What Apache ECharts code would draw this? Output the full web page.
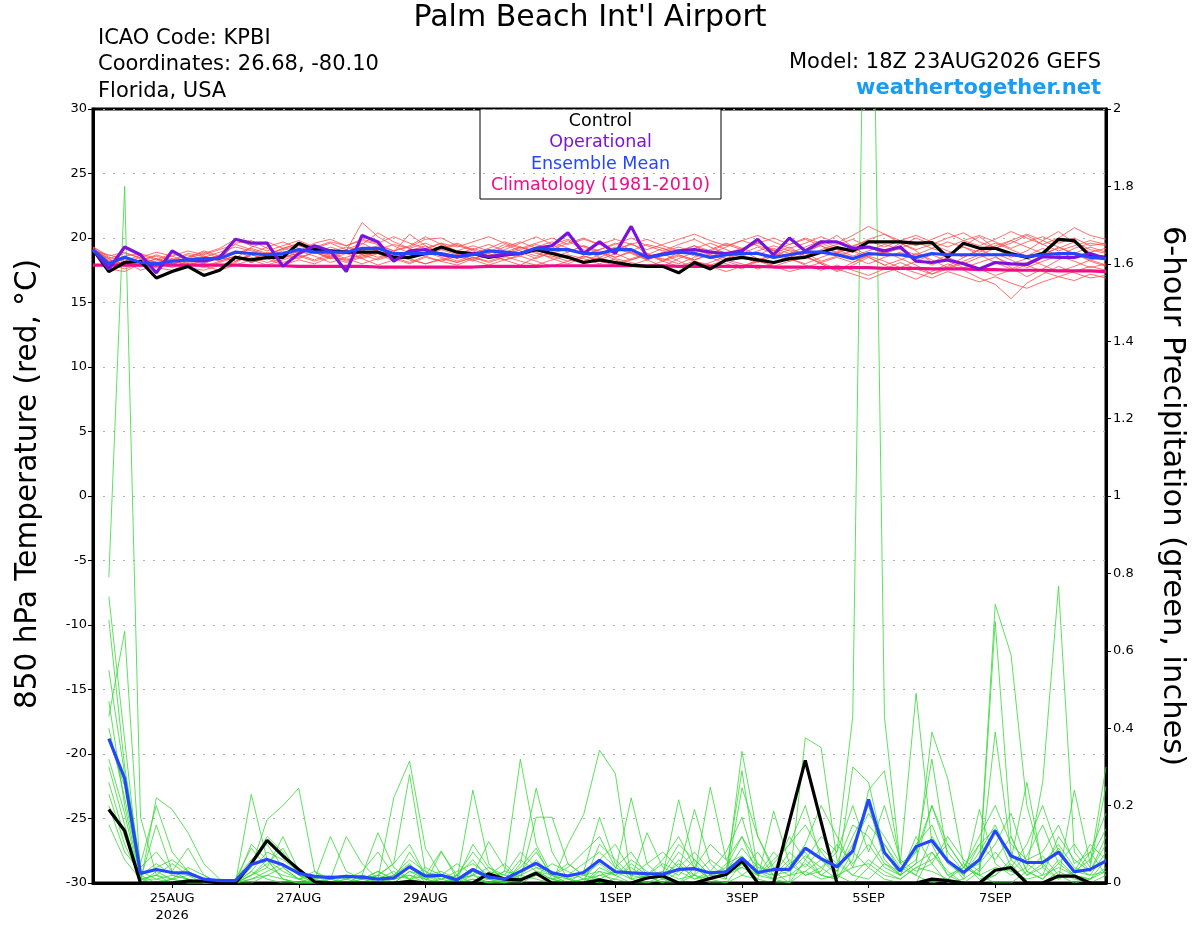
<!DOCTYPE html>
<html>
<head>
<meta charset="utf-8">
<title>Palm Beach Int'l Airport - GEFS meteogram</title>
<script src="https://cdn.jsdelivr.net/npm/echarts@6.0.0/dist/echarts.min.js"></script>
<style>
  html, body { margin: 0; padding: 0; background: #fff; }
  #chart { width: 1200px; height: 927px; }
</style>
</head>
<body>
<div id="chart"></div>
<script>
'use strict';

// Forecast hours from the 18Z 23AUG2026 run, every 6 hours
const hours = [
    0, 6, 12, 18, 24, 30, 36, 42, 48, 54, 60, 66, 72, 78, 84, 90, 96, 102, 108, 114, 120, 126,
    132, 138, 144, 150, 156, 162, 168, 174, 180, 186, 192, 198, 204, 210, 216, 222, 228, 234,
    240, 246, 252, 258, 264, 270, 276, 282, 288, 294, 300, 306, 312, 318, 324, 330, 336, 342,
    348, 354, 360, 366, 372, 378, 384
];

// Date labels on the time axis (00Z of each day)
const dayTickHours = [30, 78, 126, 198, 246, 294, 342];
const dayTickLabels = ['25AUG\n2026', '27AUG', '29AUG', '1SEP', '3SEP', '5SEP', '7SEP'];

// 850 hPa temperature (C)
const tempControl = [
    19.1, 17.4, 18.1, 18.2, 16.9, 17.4, 17.8, 17.1, 17.5, 18.5, 18.3, 18.5, 18.5,
    19.6, 19.1, 19.0, 18.9, 18.9, 18.9, 18.5, 18.5, 18.8, 19.3, 18.9, 18.8, 18.5,
    18.7, 18.8, 19.1, 18.8, 18.5, 18.1, 18.3, 18.1, 17.9, 17.8, 17.8, 17.3, 18.1,
    17.6, 18.3, 18.5, 18.3, 18.1, 18.4, 18.5, 18.9, 19.25, 19.0, 19.7, 19.7, 19.7,
    19.6, 19.65, 18.5, 19.6, 19.2, 19.2, 18.8, 18.5, 18.8, 19.9, 19.8, 18.6, 18.5
];
const tempOperational = [
    19.1, 17.6, 19.3, 18.7, 17.3, 19.0, 18.3, 18.2, 18.5, 19.9, 19.6, 19.6, 17.8,
    18.8, 19.4, 19.0, 17.4, 20.2, 19.7, 18.2, 19.0, 19.1, 18.7, 18.55, 18.8, 18.55,
    18.7, 18.8, 19.2, 19.4, 20.4, 18.8, 19.7, 18.8, 20.9, 18.5, 18.75, 19.0, 19.1,
    18.9, 18.8, 19.0, 19.9, 18.7, 20.0, 19.0, 19.7, 19.7, 19.2, 19.3, 19.0, 19.3,
    18.2, 18.1, 18.3, 18.0, 17.6, 18.1, 18.0, 17.95, 18.55, 18.5, 18.5, 18.8, 18.4
];
const tempMean = [
    19.1, 18.0, 18.5, 18.1, 18.0, 18.2, 18.3, 18.4, 18.4, 18.9, 18.8, 18.7, 18.8,
    19.1, 18.9, 18.9, 18.9, 19.2, 19.2, 18.8, 18.8, 18.8, 18.8, 18.55, 18.7, 19.0,
    18.9, 18.8, 19.2, 19.1, 19.1, 18.8, 18.8, 19.1, 19.1, 18.5, 18.7, 18.9, 18.8,
    18.5, 18.7, 18.8, 18.8, 18.5, 18.7, 18.9, 18.9, 18.7, 18.4, 18.8, 18.7, 18.7,
    18.5, 18.8, 18.7, 18.7, 18.7, 18.7, 18.7, 18.55, 18.7, 18.8, 18.8, 18.5, 18.4
];
const tempClimo = [
    17.9, 17.9, 17.9, 17.9, 17.9, 17.9, 17.9, 17.9, 17.9, 17.9, 17.85, 17.85, 17.85,
    17.8, 17.8, 17.8, 17.8, 17.8, 17.75, 17.75, 17.75, 17.75, 17.75, 17.75, 17.75, 17.8,
    17.8, 17.8, 17.8, 17.85, 17.85, 17.85, 17.85, 17.85, 17.85, 17.85, 17.85, 17.8, 17.8,
    17.8, 17.8, 17.8, 17.8, 17.75, 17.75, 17.75, 17.7, 17.7, 17.7, 17.7, 17.65, 17.65, 17.65,
    17.6, 17.6, 17.6, 17.55, 17.55, 17.5, 17.5, 17.5, 17.45, 17.45, 17.45, 17.4
];

// Ensemble members, 850 hPa temperature
const tempMembers = [
    [19.2, 18.3, 18.0, 17.8, 18.2, 18.6, 18.1, 18.5, 18.9, 19.3, 19.0, 18.6, 19.2,
     19.5, 18.9, 18.4, 19.0, 21.2, 20.1, 19.4, 18.8, 19.1, 19.6, 18.9, 18.3, 18.9,
     19.5, 19.0, 18.6, 19.2, 19.8, 19.1, 18.5, 19.0, 19.6, 18.8, 18.2, 18.9, 19.4,
     18.7, 18.4, 19.1, 19.7, 19.0, 18.3, 18.8, 19.5, 20.2, 19.3, 18.6, 18.9, 19.6,
     19.0, 18.1, 18.7, 19.4, 20.1, 19.2, 18.5, 19.0, 19.8, 20.5, 19.6, 18.9, 19.2],
    [19.1, 17.6, 17.4, 18.0, 17.7, 17.5, 18.0, 17.8, 18.2, 18.6, 18.3, 18.9, 18.5,
     18.8, 19.3, 18.7, 18.2, 18.6, 19.0, 18.4, 18.0, 18.5, 18.2, 17.9, 18.4, 18.8,
     18.3, 17.9, 18.5, 18.9, 18.6, 18.2, 18.7, 19.2, 18.8, 18.3, 17.8, 18.4, 18.9,
     18.5, 18.0, 17.6, 18.2, 18.8, 19.3, 18.6, 18.0, 17.5, 18.1, 18.7, 19.0, 18.4,
     17.9, 17.2, 17.8, 18.5, 19.1, 18.6, 17.7, 17.0, 17.6, 18.3, 18.9, 18.2, 17.8],
    [19.3, 18.6, 18.9, 18.4, 18.1, 18.3, 18.8, 18.6, 18.3, 19.6, 19.8, 19.2, 18.7,
     19.0, 19.6, 19.9, 19.4, 19.8, 19.5, 19.0, 19.3, 19.9, 20.0, 19.4, 19.1, 19.5,
     19.0, 18.6, 19.3, 19.7, 19.2, 18.7, 19.1, 19.5, 20.0, 19.4, 19.0, 19.5, 19.9,
     19.3, 18.8, 19.2, 19.6, 19.1, 18.5, 19.0, 19.4, 18.8, 19.3, 19.9, 20.3, 19.6,
     19.1, 19.5, 20.0, 20.4, 19.7, 19.2, 19.6, 20.2, 19.5, 19.0, 19.4, 19.8, 19.5],
    [19.0, 17.9, 18.2, 17.5, 17.9, 18.4, 17.7, 17.5, 17.9, 18.1, 18.7, 18.4, 17.9,
     18.3, 18.0, 18.5, 19.1, 18.4, 17.9, 18.3, 19.0, 19.4, 18.7, 18.2, 18.7, 19.1,
     18.7, 19.3, 18.9, 18.4, 18.0, 18.5, 18.9, 18.3, 17.9, 18.3, 18.8, 18.2, 17.7,
     18.1, 18.6, 19.0, 18.4, 17.8, 18.2, 18.6, 18.0, 17.4, 17.9, 18.5, 17.9, 17.3,
     16.8, 17.4, 18.0, 17.5, 16.9, 16.4, 15.3, 16.5, 17.2, 17.8, 17.3, 16.9, 17.1],
    [19.2, 18.1, 18.6, 18.8, 18.4, 17.9, 18.5, 19.0, 18.6, 18.2, 18.8, 19.3, 19.7,
     19.2, 18.8, 19.3, 18.9, 19.5, 20.4, 19.7, 19.2, 18.7, 19.2, 19.6, 19.1, 18.6,
     19.1, 19.6, 20.1, 19.5, 18.9, 19.4, 19.0, 18.5, 19.0, 19.5, 19.2, 18.7, 18.3,
     18.8, 19.3, 19.8, 19.4, 19.0, 19.5, 20.0, 19.6, 19.1, 18.6, 19.0, 19.5, 19.1,
     18.7, 19.2, 19.7, 19.3, 18.7, 19.2, 19.8, 20.3, 19.8, 19.3, 18.8, 19.3, 18.9],
    [19.1, 18.4, 17.8, 18.3, 18.6, 18.2, 18.7, 18.3, 18.6, 19.0, 18.5, 18.1, 18.4,
     19.0, 18.6, 18.1, 18.5, 18.9, 18.5, 18.9, 20.3, 19.4, 18.8, 18.4, 18.8, 19.2,
     19.7, 19.3, 18.8, 18.5, 18.9, 19.4, 18.9, 18.5, 18.9, 18.4, 18.9, 19.3, 18.9,
     18.4, 18.9, 18.5, 18.1, 18.6, 19.1, 18.8, 18.2, 18.6, 19.0, 18.5, 17.9, 18.3,
     18.8, 18.3, 17.7, 18.2, 18.7, 18.1, 17.6, 18.1, 18.6, 19.3, 18.7, 18.3, 18.6],
    [19.2, 18.0, 18.4, 18.1, 17.8, 18.1, 18.5, 18.9, 18.4, 18.8, 19.2, 18.8, 19.1,
     19.4, 19.0, 18.6, 19.1, 19.6, 19.0, 18.6, 19.0, 18.6, 19.1, 19.5, 19.0, 18.5,
     18.9, 19.3, 19.0, 19.5, 19.9, 19.3, 18.8, 19.3, 18.9, 18.3, 18.7, 19.1, 18.6,
     19.1, 19.6, 19.2, 18.7, 19.2, 18.8, 19.3, 19.8, 19.3, 18.9, 19.3, 18.8, 19.4,
     20.0, 19.5, 19.0, 18.5, 19.1, 19.6, 19.1, 18.6, 19.2, 18.6, 19.2, 19.6, 19.4],
    [19.2, 18.2, 17.9, 18.3, 18.0, 18.4, 18.0, 17.7, 18.1, 18.5, 18.1, 18.5, 19.0,
     18.6, 18.2, 18.6, 18.3, 18.7, 18.3, 18.7, 18.3, 18.0, 18.4, 18.1, 18.5, 18.2,
     18.6, 18.2, 17.9, 18.3, 18.7, 18.4, 18.0, 18.4, 18.1, 17.8, 18.2, 18.6, 18.2,
     17.9, 18.3, 18.0, 17.6, 18.0, 18.4, 17.9, 17.5, 17.9, 17.5, 17.1, 17.6, 18.1,
     17.6, 17.2, 17.6, 18.1, 17.6, 17.1, 17.5, 17.9, 17.4, 17.0, 17.4, 17.8, 17.5],
    [19.3, 18.5, 18.2, 18.7, 18.3, 18.8, 18.4, 18.8, 19.2, 19.9, 19.4, 19.0, 19.4,
     19.8, 19.3, 19.7, 19.4, 19.9, 19.6, 20.1, 19.6, 19.2, 19.6, 19.3, 19.7, 20.1,
     19.6, 19.2, 19.6, 20.0, 19.5, 19.9, 19.5, 19.9, 19.5, 19.1, 19.5, 19.9, 20.3,
     19.8, 19.4, 19.8, 20.2, 19.7, 19.2, 19.6, 20.1, 19.6, 20.2, 20.9, 20.3, 19.8,
     19.4, 19.9, 20.4, 19.8, 19.4, 19.9, 20.5, 20.0, 19.5, 20.0, 20.8, 20.2, 19.9],
    [19.0, 18.7, 18.3, 17.9, 18.4, 18.0, 18.3, 18.0, 18.5, 18.2, 18.7, 18.3, 18.7,
     18.4, 18.9, 18.5, 18.1, 18.5, 18.9, 18.5, 18.1, 18.6, 18.2, 18.6, 18.2, 18.7,
     18.3, 18.7, 19.1, 18.6, 18.2, 18.6, 18.3, 18.8, 18.3, 18.7, 18.4, 18.0, 18.5,
     18.9, 18.4, 18.8, 19.3, 18.8, 18.4, 18.0, 18.5, 18.9, 18.5, 18.0, 18.5, 18.9,
     18.4, 17.9, 18.5, 18.0, 18.5, 18.8, 18.3, 17.7, 18.2, 18.6, 18.2, 17.7, 18.0],
    [19.1, 18.2, 18.5, 18.2, 18.7, 18.3, 17.9, 18.3, 18.7, 18.4, 19.3, 19.7, 19.2,
     18.8, 19.2, 19.6, 19.1, 18.7, 19.1, 19.5, 19.2, 19.6, 19.1, 18.7, 19.2, 18.8,
     19.3, 19.7, 19.2, 18.8, 19.2, 18.7, 19.1, 19.6, 19.1, 18.7, 19.2, 18.8, 19.2,
     19.6, 19.1, 18.6, 19.0, 19.4, 19.0, 18.6, 19.1, 19.5, 19.9, 19.3, 18.8, 19.2,
     19.7, 19.2, 18.8, 19.3, 18.9, 19.4, 19.8, 19.3, 18.8, 19.2, 19.7, 19.1, 18.8],
    [19.2, 17.8, 18.1, 18.5, 18.1, 17.7, 18.2, 17.8, 17.5, 17.9, 18.3, 17.9, 18.3,
     18.7, 18.3, 18.8, 18.4, 18.0, 18.4, 18.8, 18.4, 18.0, 18.3, 18.7, 18.3, 17.9,
     18.3, 18.6, 18.2, 17.8, 18.2, 18.6, 18.2, 17.9, 18.3, 18.7, 18.2, 17.8, 18.2,
     17.8, 17.4, 17.8, 18.2, 17.8, 17.4, 17.7, 18.1, 17.6, 17.2, 16.8, 17.3, 17.7,
     17.3, 16.9, 17.4, 17.0, 16.6, 17.0, 16.5, 16.1, 16.6, 17.0, 16.7, 17.2, 16.9],
    [19.2, 18.4, 18.8, 18.5, 18.9, 18.6, 19.0, 18.7, 19.1, 19.5, 19.1, 18.7, 19.2,
     19.6, 19.2, 18.9, 19.3, 19.0, 19.4, 19.0, 19.4, 20.1, 19.5, 19.0, 19.4, 19.0,
     18.7, 19.1, 19.5, 19.1, 19.6, 20.0, 19.5, 19.1, 19.5, 19.9, 19.4, 19.0, 19.4,
     19.0, 19.5, 19.1, 19.6, 20.0, 19.5, 19.9, 19.4, 18.9, 19.4, 19.8, 19.3, 19.8,
     20.2, 19.7, 19.3, 19.8, 20.2, 19.7, 19.2, 19.7, 20.1, 19.6, 20.0, 19.4, 19.6],
    [19.1, 18.0, 17.6, 18.0, 18.4, 18.0, 18.3, 18.6, 18.2, 18.6, 18.1, 18.5, 18.1,
     18.5, 18.9, 18.4, 18.8, 18.4, 18.8, 18.2, 18.6, 18.9, 18.5, 18.1, 18.5, 18.1,
     18.5, 18.9, 18.4, 18.9, 18.5, 18.1, 18.5, 18.0, 18.4, 18.8, 18.3, 18.7, 18.3,
     18.7, 18.2, 17.8, 18.3, 18.7, 18.2, 18.5, 18.1, 18.5, 18.1, 18.6, 18.2, 17.7,
     18.2, 18.7, 18.2, 17.7, 18.1, 18.5, 18.0, 18.4, 17.9, 17.4, 17.8, 18.3, 17.9]
];

// 6-hour precipitation (inches), valid at +6h ... +384h
const precipControl = [
    0.19, 0.135, 0, 0, 0, 0.005, 0.005, 0, 0, 0.05, 0.11, 0.07, 0.035, 0.003, 0, 0,
    0, 0, 0, 0.004, 0, 0, 0, 0, 0.024, 0.01, 0.008, 0.025, 0, 0, 0, 0.008,
    0, 0, 0.013, 0.018, 0, 0, 0.012, 0.022, 0.057, 0, 0, 0.16, 0.317, 0.158, 0, 0,
    0, 0, 0, 0, 0.01, 0.006, 0, 0, 0.033, 0.04, 0, 0, 0.018, 0.018, 0, 0
];
const precipMean = [
    0.373, 0.27, 0.025, 0.035, 0.027, 0.026, 0.01, 0.006, 0.006, 0.048, 0.061, 0.047, 0.025, 0.017, 0.014, 0.017,
    0.015, 0.01, 0.013, 0.042, 0.018, 0.02, 0.008, 0.035, 0.015, 0.01, 0.03, 0.051, 0.026, 0.018, 0.027, 0.059,
    0.029, 0.026, 0.024, 0.023, 0.035, 0.037, 0.026, 0.029, 0.064, 0.027, 0.035, 0.035, 0.09, 0.063, 0.042, 0.083,
    0.216, 0.079, 0.031, 0.094, 0.11, 0.057, 0.027, 0.06, 0.135, 0.07, 0.053, 0.053, 0.08, 0.029, 0.035, 0.057
];

// Ensemble members, 6-hour precipitation
const precipMembers = [
    [0.79, 1.80, 0.17, 0.02, 0, 0, 0, 0, 0, 0.03, 0.01, 0, 0, 0, 0.01, 0,
     0, 0, 0.02, 0.05, 0, 0, 0, 0.01, 0, 0, 0.03, 0.08, 0.02, 0, 0, 0.04,
     0.02, 0, 0, 0.01, 0.06, 0.02, 0, 0, 0.05, 0.01, 0, 0, 0.03, 0.06, 0.02, 0,
     0.04, 0.01, 0, 0, 0.08, 0.03, 0, 0, 0.02, 0.05, 0, 0, 0.03, 0.01, 0, 0.02],
    [0.43, 0.65, 0.02, 0, 0.01, 0, 0, 0, 0, 0.02, 0.06, 0.01, 0, 0, 0, 0.02,
     0.01, 0, 0, 0.03, 0.01, 0, 0.02, 0.06, 0.01, 0, 0, 0.02, 0.01, 0, 0, 0.03,
     0, 0, 0.02, 0, 0, 0.04, 0.01, 0, 0.02, 0.05, 0.01, 0, 0.06, 0.12, 0.08, 0.43,
     3.20, 0.43, 0.05, 0.02, 0, 0.01, 0.04, 0.02, 0, 0, 0.03, 0.07, 0.02, 0, 0.01, 0.04],
    [0.74, 0.37, 0, 0.22, 0.19, 0.13, 0.05, 0.01, 0, 0, 0.02, 0.04, 0.01, 0, 0, 0,
     0.02, 0.13, 0.04, 0.01, 0, 0.08, 0.02, 0, 0.01, 0.03, 0.32, 0.1, 0.02, 0, 0.01, 0,
     0.01, 0.05, 0.02, 0, 0.03, 0.19, 0.05, 0.01, 0.34, 0.12, 0.03, 0, 0.375, 0.35, 0.06, 0.02,
     0.01, 0.05, 0.02, 0.12, 0.05, 0, 0.01, 0.04, 0.72, 0.59, 0.2, 0.05, 0.01, 0.03, 0.02, 0.08],
    [0.68, 0.3, 0.05, 0.2, 0.08, 0.03, 0.01, 0, 0, 0.229, 0.06, 0.01, 0, 0, 0.01, 0.12,
     0.05, 0.01, 0.22, 0.315, 0.09, 0.02, 0, 0.03, 0.01, 0, 0.05, 0.245, 0.08, 0.01, 0, 0.02,
     0.03, 0.22, 0.05, 0.01, 0, 0.02, 0.248, 0.06, 0.02, 0.01, 0.186, 0.05, 0.02, 0.04, 0.01, 0.3,
     0.26, 0.08, 0.02, 0.05, 0.39, 0.27, 0.05, 0.01, 0.02, 0.06, 0.26, 0.04, 0.01, 0.24, 0.05, 0.3],
    [0.47, 0.2, 0.01, 0.15, 0.03, 0.09, 0.02, 0, 0, 0.04, 0.164, 0.2, 0.245, 0.03, 0, 0.01,
     0, 0.02, 0.05, 0.28, 0.03, 0, 0.01, 0.24, 0.05, 0, 0.02, 0.01, 0, 0.1, 0.177, 0.343,
     0.283, 0.01, 0, 0.02, 0.215, 0.05, 0.01, 0.03, 0.29, 0.03, 0.01, 0.05, 0.08, 0.02, 0.01, 0.06,
     0.24, 0.29, 0.05, 0.49, 0.1, 0.02, 0, 0.03, 0.675, 0.12, 0.03, 0.01, 0.05, 0.02, 0.01, 0.06],
    [0.40, 0.22, 0.02, 0.05, 0.02, 0.01, 0, 0, 0, 0.1, 0.06, 0.03, 0.01, 0, 0, 0,
     0.01, 0.03, 0.01, 0.08, 0.02, 0.083, 0.01, 0.02, 0.107, 0.04, 0.01, 0.17, 0.17, 0.05, 0.02, 0.01,
     0.03, 0.01, 0.13, 0.04, 0.02, 0.06, 0.02, 0.01, 0.246, 0.12, 0.04, 0.02, 0.05, 0.02, 0.01, 0.08,
     0.04, 0.1, 0.03, 0.08, 0.32, 0.06, 0.01, 0.19, 0.05, 0.02, 0.04, 0.26, 0.767, 0.08, 0.03, 0.12],
    [0.37, 0.25, 0.01, 0.02, 0.05, 0.02, 0, 0.01, 0, 0.02, 0.05, 0.09, 0.02, 0.01, 0.12, 0.03,
     0.01, 0.02, 0.01, 0.04, 0.01, 0.02, 0.05, 0.02, 0, 0.01, 0.04, 0.09, 0.01, 0, 0.03, 0.17,
     0.05, 0.01, 0.02, 0.05, 0.03, 0.01, 0.03, 0.08, 0.17, 0.03, 0.02, 0.08, 0.04, 0.09, 0.05, 0.02,
     0.06, 0.03, 0.01, 0.04, 0.06, 0.1, 0.04, 0.02, 0.39, 0.08, 0.02, 0.05, 0.1, 0.04, 0.02, 0.03],
    [0.32, 0.18, 0, 0.03, 0.01, 0.04, 0.02, 0, 0, 0.01, 0.03, 0.05, 0.02, 0, 0, 0.01,
     0.02, 0.01, 0.03, 0.01, 0.02, 0, 0.01, 0.03, 0.02, 0.05, 0.01, 0.03, 0.02, 0.01, 0.02, 0.05,
     0.02, 0.04, 0.01, 0.02, 0.05, 0.01, 0.02, 0.04, 0.12, 0.05, 0.02, 0.06, 0.02, 0.03, 0.1, 0.05,
     0.1, 0.04, 0.02, 0.05, 0.08, 0.02, 0.04, 0.1, 0.06, 0.12, 0.03, 0.01, 0.06, 0.02, 0.08, 0.02],
    [0.30, 0.15, 0.01, 0.01, 0.02, 0.01, 0, 0, 0.01, 0.06, 0.1, 0.04, 0.01, 0.02, 0, 0,
     0, 0.01, 0.02, 0.06, 0.03, 0.01, 0, 0.02, 0.04, 0.01, 0.02, 0.04, 0.03, 0.01, 0, 0.1,
     0.06, 0.02, 0.01, 0.03, 0.1, 0.06, 0.02, 0.02, 0.05, 0.02, 0.05, 0.1, 0.15, 0.08, 0.03, 0.12,
     0.2, 0.06, 0.02, 0.1, 0.15, 0.05, 0.02, 0.08, 0.15, 0.06, 0.02, 0.04, 0.09, 0.03, 0.06, 0.14],
    [0.26, 0.12, 0.02, 0.04, 0.06, 0.03, 0.01, 0, 0, 0.03, 0.08, 0.06, 0.03, 0.01, 0, 0,
     0.01, 0.03, 0.01, 0.02, 0, 0.01, 0.03, 0.05, 0.02, 0.01, 0.06, 0.03, 0.01, 0.02, 0.05, 0.08,
     0.04, 0.02, 0.05, 0.08, 0.04, 0.02, 0.06, 0.03, 0.09, 0.04, 0.03, 0.12, 0.06, 0.02, 0.05, 0.15,
     0.12, 0.05, 0.03, 0.06, 0.2, 0.08, 0.03, 0.05, 0.1, 0.18, 0.05, 0.02, 0.12, 0.06, 0.03, 0.1],
    [0.23, 0.1, 0.01, 0.02, 0.01, 0.02, 0.01, 0, 0, 0.05, 0.12, 0.08, 0.02, 0, 0.01, 0.02,
     0.01, 0.02, 0.05, 0.1, 0.02, 0.01, 0.02, 0.08, 0.03, 0.02, 0.01, 0.02, 0.05, 0.03, 0.01, 0.06,
     0.1, 0.03, 0.01, 0.02, 0.08, 0.04, 0.01, 0.05, 0.07, 0.02, 0.08, 0.04, 0.1, 0.2, 0.12, 0.04,
     0.15, 0.1, 0.04, 0.02, 0.12, 0.06, 0.02, 0.1, 0.14, 0.04, 0.1, 0.2, 0.08, 0.03, 0.1, 0.06],
    [0.2, 0.08, 0.03, 0.01, 0, 0.01, 0, 0, 0, 0.02, 0.04, 0.02, 0.01, 0.03, 0.01, 0,
     0.02, 0.01, 0, 0.03, 0.02, 0.03, 0.01, 0.02, 0.01, 0.03, 0.02, 0.06, 0.02, 0.05, 0.02, 0.03,
     0.02, 0.06, 0.03, 0.01, 0.04, 0.08, 0.03, 0.02, 0.04, 0.08, 0.02, 0.03, 0.07, 0.04, 0.08, 0.2,
     0.08, 0.2, 0.06, 0.03, 0.05, 0.12, 0.06, 0.03, 0.08, 0.03, 0.07, 0.15, 0.05, 0.1, 0.04, 0.25],
    [0.15, 0.06, 0.01, 0, 0.01, 0, 0, 0, 0, 0.01, 0.02, 0.01, 0, 0, 0, 0,
     0, 0, 0.01, 0.02, 0.01, 0, 0, 0.01, 0, 0, 0.01, 0.03, 0.01, 0, 0.01, 0.02,
     0.01, 0, 0.02, 0.03, 0.01, 0.02, 0.01, 0.03, 0.04, 0.02, 0.01, 0.02, 0.03, 0.01, 0.02, 0.04,
     0.05, 0.02, 0.01, 0.04, 0.03, 0.01, 0.05, 0.02, 0.04, 0.03, 0.01, 0.02, 0.04, 0.02, 0.01, 0.03],
    [0.55, 0.28, 0.04, 0.08, 0.03, 0.01, 0, 0, 0.01, 0.09, 0.04, 0.12, 0.03, 0.01, 0.02, 0.01,
     0.03, 0.08, 0.02, 0.01, 0.04, 0.02, 0.01, 0.1, 0.04, 0.02, 0.08, 0.04, 0.02, 0.04, 0.08, 0.12,
     0.04, 0.08, 0.02, 0.06, 0.12, 0.04, 0.1, 0.06, 0.12, 0.02, 0.06, 0.1, 0.2, 0.06, 0.03, 0.1,
     0.18, 0.12, 0.05, 0.08, 0.2, 0.1, 0.04, 0.12, 0.2, 0.1, 0.06, 0.08, 0.15, 0.05, 0.08, 0.18]
];

const FONT = 'DejaVu Sans';
const COLOR_MEMBER_T = '#ff4a4a';
const COLOR_MEMBER_P = '#35d935';
const COLOR_OPER = '#7d12dc';
const COLOR_MEAN = '#2446ff';
const COLOR_CLIMO = '#f00d88';

// precip has no value at the analysis time
const fromSixHours = (arr) => [null].concat(arr);

const thinLine = (data, axis, color) => ({
    type: 'line',
    yAxisIndex: axis,
    data: data,
    symbol: 'none',
    silent: true,
    lineStyle: { color: color, width: 0.8 }
});

const thickLine = (name, data, axis, color) => ({
    name: name,
    type: 'line',
    yAxisIndex: axis,
    data: data,
    symbol: 'none',
    silent: true,
    lineStyle: { color: color, width: 3.2 }
});

const buildSeries = () => {
    const series = [];
    tempMembers.forEach(m => series.push(thinLine(m, 0, COLOR_MEMBER_T)));
    precipMembers.forEach(m => series.push(thinLine(fromSixHours(m), 1, COLOR_MEMBER_P)));
    series.push(thickLine('Climatology (1981-2010)', tempClimo, 0, COLOR_CLIMO));
    series.push(thickLine('Control', tempControl, 0, '#000'));
    series.push(thickLine('Operational', tempOperational, 0, COLOR_OPER));
    series.push(thickLine('Ensemble Mean', tempMean, 0, COLOR_MEAN));
    series.push(thickLine('Control', fromSixHours(precipControl), 1, '#000'));
    series.push(thickLine('Ensemble Mean', fromSixHours(precipMean), 1, COLOR_MEAN));
    return series;
};

const headerText = (text, x, y, size, align, color, weight) => ({
    type: 'text',
    x: x,
    y: y,
    z: 100,
    style: {
        text: text,
        fill: color || '#000',
        font: (weight || 'normal') + ' ' + size + 'px "' + FONT + '"',
        textAlign: align,
        textVerticalAlign: 'middle'
    }
});

// Legend box drawn like the original: centred coloured words in a framed box
const legendBox = () => {
    const items = [
        ['Control', '#000'],
        ['Operational', COLOR_OPER],
        ['Ensemble Mean', COLOR_MEAN],
        ['Climatology (1981-2010)', COLOR_CLIMO]
    ];
    const children = [{
        type: 'rect',
        shape: { x: 0, y: 0, width: 241, height: 90 },
        style: { fill: '#fff', stroke: '#000', lineWidth: 1 }
    }];
    items.forEach((it, i) => {
        children.push(headerText(it[0], 120.5, 12 + i * 21.6, 17.5, 'center', it[1]));
    });
    return { type: 'group', x: 480, y: 109, z: 100, children: children };
};

const isDayTick = (idx) => dayTickHours.indexOf(hours[idx]) !== -1;

const meteogram = echarts.init(document.getElementById('chart'), null, { renderer: 'canvas' });

meteogram.setOption({
    animation: false,
    backgroundColor: '#fff',
    textStyle: { fontFamily: FONT },
    grid: {
        left: 93, right: 94, top: 109, bottom: 44,
        show: true, borderColor: '#000', borderWidth: 3
    },
    xAxis: {
        type: 'category',
        data: hours.map(String),
        boundaryGap: false,
        axisLine: { onZero: false, lineStyle: { color: '#000', width: 3 } },
        axisTick: { interval: (idx) => isDayTick(idx), length: 5, lineStyle: { color: '#000', width: 1 } },
        axisLabel: {
            interval: (idx) => isDayTick(idx),
            formatter: (val) => dayTickLabels[dayTickHours.indexOf(+val)] || '',
            color: '#000',
            fontSize: 13,
            lineHeight: 17,
            margin: 7
        },
        splitLine: { show: false }
    },
    yAxis: [
        {
            type: 'value',
            min: -30, max: 30, interval: 5,
            name: '850 hPa Temperature (red, \u00B0C)',
            nameLocation: 'middle',
            nameRotate: 90,
            nameGap: 50,
            nameTextStyle: { fontSize: 29.5, color: '#000', fontFamily: FONT, padding: [0, 0, 0, 24] },
            axisLine: { show: true, lineStyle: { color: '#000', width: 3 } },
            axisTick: { show: true, length: 5, lineStyle: { color: '#000' } },
            axisLabel: { color: '#000', fontSize: 13, margin: 6 },
            splitLine: { show: true, lineStyle: { color: '#b0b0b0', width: 1.2, type: [2, 8] } }
        },
        {
            type: 'value',
            min: 0, max: 2, interval: 0.2,
            position: 'right',
            name: '6-hour Precipitation (green, inches)',
            nameLocation: 'middle',
            nameRotate: -90,
            nameGap: 50,
            nameTextStyle: { fontSize: 30.5, color: '#000', fontFamily: FONT },
            axisLine: { show: true, lineStyle: { color: '#000', width: 3 } },
            axisTick: { show: true, length: 5, lineStyle: { color: '#000' } },
            axisLabel: { color: '#000', fontSize: 13, margin: 7 },
            splitLine: { show: false }
        }
    ],
    graphic: [
        headerText('Palm Beach Int\'l Airport', 590, 18, 30, 'center'),
        headerText('ICAO Code: KPBI', 98, 39, 21, 'left'),
        headerText('Coordinates: 26.68, -80.10', 98, 65, 21, 'left'),
        headerText('Florida, USA', 98, 92, 21, 'left'),
        headerText('Model: 18Z 23AUG2026 GEFS', 1101, 63, 21, 'right'),
        headerText('weathertogether.net', 1101, 89, 21, 'right', '#1a9cf2', 'bold'),
        legendBox()
    ],
    series: buildSeries()
});
</script>
</body>
</html>
